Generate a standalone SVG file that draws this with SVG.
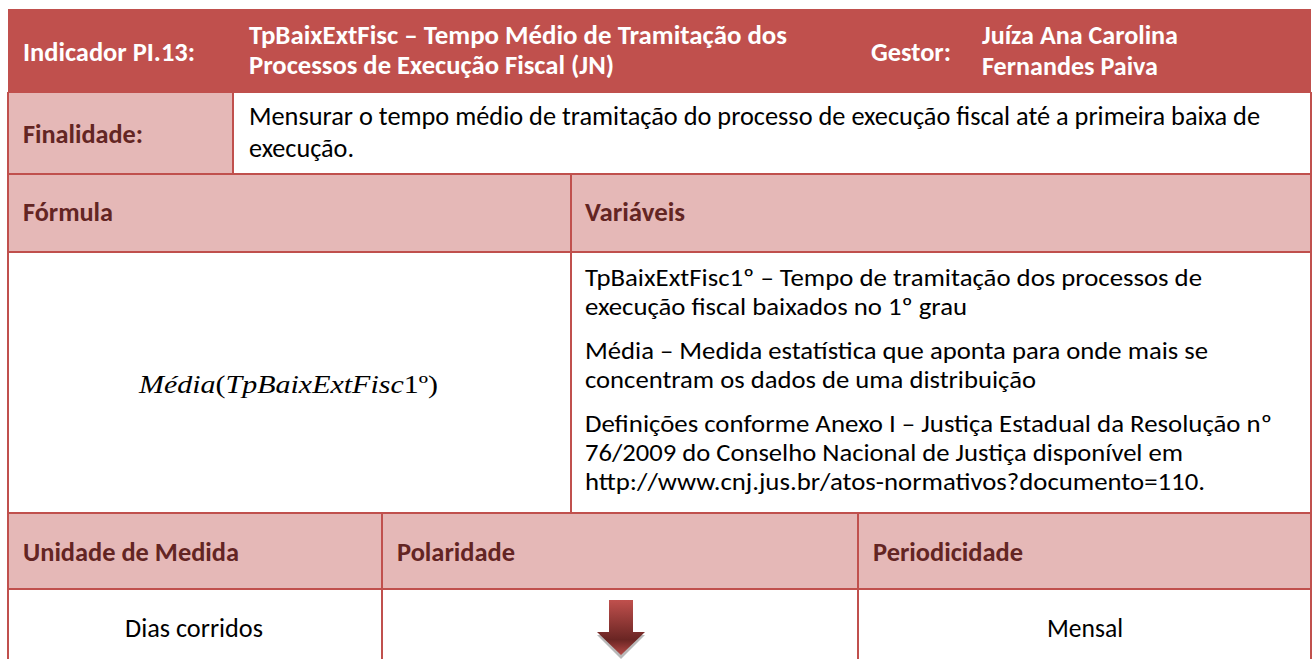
<svg xmlns="http://www.w3.org/2000/svg" width="1314" height="659" viewBox="0 0 1314 659">
<defs>
<style>
.hdr{fill:#C0504D}
.lt{fill:#E5B8B7}
.wh{fill:#FFFFFF}
.ln{stroke:#C0504D;stroke-width:2;fill:none}
text{font-family:Carlito,Calibri,"Open Sans",Lato,"Liberation Sans",sans-serif;font-size:26px}
.w{fill:#FFFFFF;font-weight:bold}
.d{fill:#632523;font-weight:bold}
.b{fill:#000000}
.v{fill:#000000;font-size:24.5px}
.m{font-family:"Liberation Serif","DejaVu Serif",serif;font-size:25px;fill:#000}
</style>
<linearGradient id="ag" x1="0" y1="0" x2="0" y2="1">
<stop offset="0" stop-color="#C0504D"/>
<stop offset="0.72" stop-color="#6A2523"/>
<stop offset="1" stop-color="#B54A47"/>
</linearGradient>
</defs>
<rect width="1314" height="659" fill="#FFFFFF"/>

<g id="header">
<rect class="hdr" x="8" y="9" width="1303" height="83"/>
<text class="w" x="23" y="61" textLength="172" lengthAdjust="spacingAndGlyphs">Indicador PI.13:</text>
<text class="w" x="249" y="44" textLength="538" lengthAdjust="spacingAndGlyphs">TpBaixExtFisc – Tempo Médio de Tramitação dos</text>
<text class="w" x="249" y="74" textLength="365" lengthAdjust="spacingAndGlyphs">Processos de Execução Fiscal (JN)</text>
<text class="w" x="871" y="61" textLength="80" lengthAdjust="spacingAndGlyphs">Gestor:</text>
<text class="w" x="982" y="44" textLength="196" lengthAdjust="spacingAndGlyphs">Juíza Ana Carolina</text>
<text class="w" x="982" y="75" textLength="176" lengthAdjust="spacingAndGlyphs">Fernandes Paiva</text>
</g>

<g id="finalidade">
<rect class="lt" x="8" y="92" width="225" height="82"/>
<rect class="wh" x="233" y="92" width="1078" height="82"/>
<text class="d" x="23" y="143" textLength="120" lengthAdjust="spacingAndGlyphs">Finalidade:</text>
<text class="b" x="249" y="125" textLength="1011" lengthAdjust="spacingAndGlyphs">Mensurar o tempo médio de tramitação do processo de execução fiscal até a primeira baixa de</text>
<text class="b" x="249" y="157" textLength="105" lengthAdjust="spacingAndGlyphs">execução.</text>
</g>

<g id="formula-header">
<rect class="lt" x="8" y="174" width="1303" height="78"/>
<text class="d" x="23" y="221" textLength="90" lengthAdjust="spacingAndGlyphs">Fórmula</text>
<text class="d" x="585" y="221" textLength="100" lengthAdjust="spacingAndGlyphs">Variáveis</text>
</g>

<g id="formula">
<text class="m" x="139" y="393" textLength="299" lengthAdjust="spacingAndGlyphs"><tspan font-style="italic">Média</tspan>(<tspan font-style="italic">TpBaixExtFisc</tspan>1º)</text>
</g>

<g id="variaveis">
<text class="v" x="585" y="286" textLength="617" lengthAdjust="spacingAndGlyphs">TpBaixExtFisc1º – Tempo de tramitação dos processos de</text>
<text class="v" x="585" y="315" textLength="382" lengthAdjust="spacingAndGlyphs">execução fiscal baixados no 1º grau</text>
<text class="v" x="585" y="359" textLength="623" lengthAdjust="spacingAndGlyphs">Média – Medida estatística que aponta para onde mais se</text>
<text class="v" x="585" y="388" textLength="451" lengthAdjust="spacingAndGlyphs">concentram os dados de uma distribuição</text>
<text class="v" x="585" y="432" textLength="687" lengthAdjust="spacingAndGlyphs">Definições conforme Anexo I – Justiça Estadual da Resolução nº</text>
<text class="v" x="585" y="461" textLength="598" lengthAdjust="spacingAndGlyphs">76/2009 do Conselho Nacional de Justiça disponível em</text>
<text class="v" x="585" y="490" textLength="620" lengthAdjust="spacingAndGlyphs">http://www.cnj.jus.br/atos-normativos?documento=110.</text>
</g>

<g id="bottom-header">
<rect class="lt" x="8" y="513" width="1303" height="76"/>
<text class="d" x="23" y="561" textLength="216" lengthAdjust="spacingAndGlyphs">Unidade de Medida</text>
<text class="d" x="397" y="561" textLength="118" lengthAdjust="spacingAndGlyphs">Polaridade</text>
<text class="d" x="873" y="561" textLength="150" lengthAdjust="spacingAndGlyphs">Periodicidade</text>
</g>

<g id="bottom-values">
<text class="b" x="125" y="637" textLength="138" lengthAdjust="spacingAndGlyphs">Dias corridos</text>
<text class="b" x="1047" y="637" textLength="76" lengthAdjust="spacingAndGlyphs">Mensal</text>
<g id="arrow">
<polygon points="609,603 633,603 633,635 645,635 621,659 597,635 609,635" fill="#A6A6A6" opacity="0.8"/>
<polygon points="609,600 633,600 633,632 645,632 621,655 597,632 609,632" fill="url(#ag)"/>
</g>
</g>

<g id="lines">
<line class="ln" x1="8" y1="92" x2="1311" y2="92"/>
<line class="ln" x1="8" y1="174" x2="1311" y2="174"/>
<line class="ln" x1="8" y1="252" x2="1311" y2="252"/>
<line class="ln" x1="8" y1="513" x2="1311" y2="513"/>
<line class="ln" x1="8" y1="589" x2="1311" y2="589"/>
<line class="ln" x1="8" y1="92" x2="8" y2="659"/>
<line class="ln" x1="1311" y1="92" x2="1311" y2="659"/>
<line class="ln" x1="233" y1="92" x2="233" y2="174"/>
<line class="ln" x1="571" y1="174" x2="571" y2="513"/>
<line class="ln" x1="382" y1="513" x2="382" y2="659"/>
<line class="ln" x1="858" y1="513" x2="858" y2="659"/>
</g>
</svg>
